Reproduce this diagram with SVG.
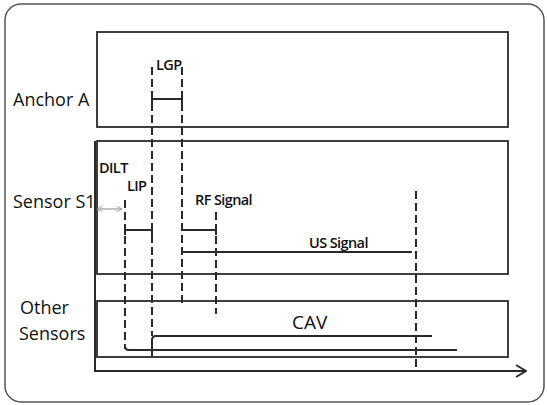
<svg xmlns="http://www.w3.org/2000/svg" width="547" height="405" viewBox="0 0 547 405">
<style>
.box{fill:none;stroke:#2a2a2a;stroke-width:1.8}
.ln{fill:none;stroke:#2a2a2a;stroke-width:2}
.dash{fill:none;stroke:#2a2a2a;stroke-width:2;stroke-dasharray:8 4}
.lbl{font-family:"Open Sans","Noto Sans",sans-serif;fill:#111}
.sm{font-family:"Open Sans","Noto Sans",sans-serif;fill:#111;font-size:14.5px;font-weight:600;letter-spacing:-0.6px}
</style>
<defs>
<marker id="ah" viewBox="0 0 10 10" refX="9" refY="5" markerWidth="7" markerHeight="7" orient="auto-start-reverse" markerUnits="userSpaceOnUse">
<path d="M1,1 L9,5 L1,9" fill="none" stroke="#999" stroke-width="1.2"/>
</marker>
<marker id="ax" viewBox="0 0 12 14" refX="11" refY="7" markerWidth="12" markerHeight="14" orient="auto" markerUnits="userSpaceOnUse">
<path d="M1,1 L11,7 L1,13" fill="none" stroke="#2a2a2a" stroke-width="2"/>
</marker>
</defs>
<rect x="5" y="4" width="539" height="398" rx="16" fill="#fff" stroke="#555" stroke-width="1.5"/>
<g id="anchor-a">
<rect class="box" x="97" y="32" width="411" height="95"/>
<text class="lbl" x="13" y="106" font-size="18">Anchor A</text>
</g>
<g id="sensor-s1">
<rect class="box" x="97" y="141" width="411" height="133"/>
<text class="lbl" x="13" y="208" font-size="18">Sensor S1</text>
</g>
<g id="other-sensors">
<rect class="box" x="97" y="301" width="411" height="56"/>
<text class="lbl" x="20" y="314" font-size="18">Other</text>
<text class="lbl" x="19" y="340" font-size="18">Sensors</text>
</g>
<g id="labels">
<text class="sm" x="156" y="70">LGP</text>
<text class="sm" x="99" y="173">DILT</text>
<text class="sm" x="127" y="191">LIP</text>
<text class="sm" x="195" y="205">RF Signal</text>
<text class="sm" x="309" y="248">US Signal</text>
<text class="lbl" x="292" y="329" font-size="19">CAV</text>
</g>
<g id="connectors">
<line class="ln" x1="95" y1="141" x2="95" y2="371"/>
<line class="ln" x1="94" y1="371" x2="526" y2="371" marker-end="url(#ax)"/>
<line class="dash" x1="152" y1="67" x2="152" y2="336"/>
<line class="dash" x1="182" y1="67" x2="182" y2="307"/>
<line class="dash" x1="125" y1="200" x2="125" y2="349"/>
<line class="dash" x1="216" y1="212" x2="216" y2="314"/>
<line class="dash" x1="416" y1="191" x2="416" y2="372"/>
<path class="ln" d="M152,94 V104 M152,99 H182 M182,94 V104"/>
<path class="ln" d="M125,225 V235 M125,230 H152 M152,225 V235"/>
<path class="ln" d="M182,225 V230 H216 V235"/>
<path class="ln" d="M182,252 H412"/>
<path class="ln" d="M152,357 V340 Q152,336 156,336 H432"/>
<path class="ln" d="M125,346 Q125,350 129,350 H457"/>
<line x1="97" y1="209" x2="122" y2="209" stroke="#999" stroke-width="1.2" marker-start="url(#ah)" marker-end="url(#ah)"/>
</g>
</svg>
